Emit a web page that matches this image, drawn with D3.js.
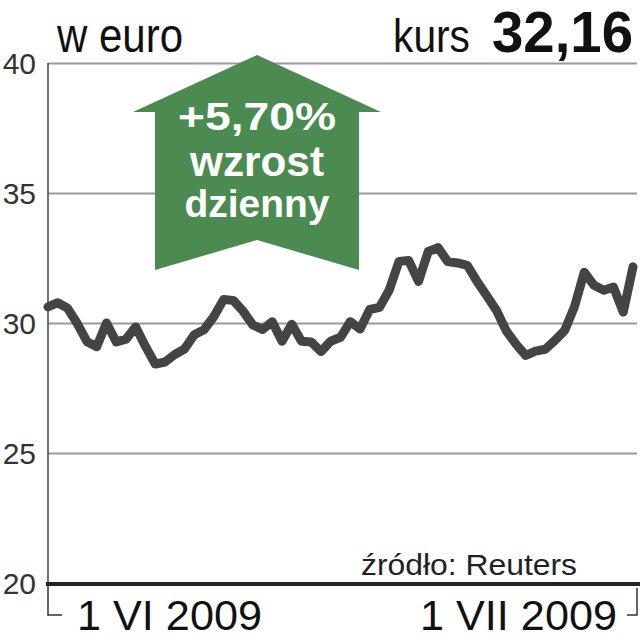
<!DOCTYPE html>
<html>
<head>
<meta charset="utf-8">
<script src="https://cdn.jsdelivr.net/npm/d3@7"></script>
<style>
  html, body { margin: 0; padding: 0; background: #fff; }
  svg { display: block; }
  text { font-family: "Liberation Sans", Arial, sans-serif; }
</style>
</head>
<body>
<svg id="chart" width="640" height="640"></svg>
<script>
// ---- data ----
const prices = [30.62, 30.78, 30.57, 29.98, 29.28, 29.09, 30.0, 29.27, 29.38, 29.85,
  29.1, 28.42, 28.5, 28.79, 29.0, 29.55, 29.74, 30.24, 30.9, 30.87,
  30.46, 29.93, 29.75, 30.05, 29.3, 29.95, 29.3, 29.27, 28.9, 29.3,
  29.45, 30.05, 29.77, 30.52, 30.6, 31.27, 32.37, 32.4, 31.6, 32.75,
  32.9, 32.36, 32.31, 32.22, 31.6, 31.05, 30.48, 29.7, 29.19, 28.75,
  28.92, 28.99, 29.33, 29.72, 30.63, 31.95, 31.45, 31.26, 31.38, 30.42, 32.16];
const yTicks = [20, 25, 30, 35, 40];
const xLabels = ["1 VI 2009", "1 VII 2009"];
const unitLabel = "w euro";
const lastLabel = "kurs";
const lastValue = "32,16";
const changeLines = ["+5,70%", "wzrost", "dzienny"];
const sourceLabel = "źródło: Reuters";

// ---- layout ----
const svg = d3.select("#chart");
const padL = 48, padR = 633, gridRight = 637, padT = 63, padB = 583;

const x = d3.scaleLinear().domain([0, prices.length - 1]).range([padL, padR]);
const y = d3.scaleLinear().domain([20, 40]).range([padB, padT]);

// grid + y labels
const yAxis = d3.axisLeft(y).tickValues(yTicks).tickSize(-(gridRight - padL)).tickPadding(12);
const gy = svg.append("g").attr("transform", `translate(${padL},0)`).call(yAxis);
gy.select(".domain").remove();
gy.selectAll(".tick line").attr("stroke", "#9a9a9a").attr("stroke-width", 2);
gy.selectAll(".tick text")
  .attr("font-size", 30).attr("fill", "#333")
  .attr("font-family", "Roboto, 'Liberation Sans', sans-serif").attr("font-weight", 300)
  .attr("dy", "0.36em");

// left axis line
svg.append("line").attr("x1", padL).attr("x2", padL).attr("y1", padT).attr("y2", padB)
  .attr("stroke", "#444").attr("stroke-width", 1.5);

// arrow annotation
const cx = 257;
const arrowPts = [[cx, 55], [cx + 124, 112], [cx + 102, 112], [cx + 102, 270], [cx, 240],
  [cx - 102, 270], [cx - 102, 112], [cx - 124, 112]];
svg.append("polygon").attr("points", arrowPts.map(p => p.join(",")).join(" "))
  .attr("fill", "#4b8a50");

const arrowText = [
  {t: changeLines[0], y: 130, size: 39, len: 158},
  {t: changeLines[1], y: 176, size: 43, len: 134},
  {t: changeLines[2], y: 217, size: 38, len: 145}
];
svg.selectAll("text.arrow").data(arrowText).enter().append("text")
  .attr("class", "arrow")
  .attr("x", cx).attr("y", d => d.y)
  .attr("text-anchor", "middle")
  .attr("font-size", d => d.size).attr("font-weight", "bold").attr("fill", "#fff")
  .attr("textLength", d => d.len).attr("lengthAdjust", "spacingAndGlyphs")
  .text(d => d.t);

// price line
const line = d3.line().x((d, i) => x(i)).y(d => y(d));
svg.append("path").datum(prices).attr("d", line)
  .attr("fill", "none").attr("stroke", "#444").attr("stroke-width", 9)
  .attr("stroke-linejoin", "round").attr("stroke-linecap", "round");

// bottom axis line
svg.append("line").attr("x1", padL - 2).attr("x2", 640).attr("y1", padB + 1).attr("y2", padB + 1)
  .attr("stroke", "#222").attr("stroke-width", 4);

// date brackets
svg.append("path").attr("d", `M${padL},${padB + 2}V615H62`)
  .attr("fill", "none").attr("stroke", "#333").attr("stroke-width", 1.5);
svg.append("path").attr("d", `M637,588V615H627`)
  .attr("fill", "none").attr("stroke", "#333").attr("stroke-width", 1.5);

// date labels
svg.append("text").attr("x", 77).attr("y", 630).attr("font-size", 42).attr("fill", "#111")
  .attr("textLength", 185).attr("lengthAdjust", "spacingAndGlyphs").text(xLabels[0]);
svg.append("text").attr("x", 420).attr("y", 630).attr("font-size", 42).attr("fill", "#111")
  .attr("textLength", 197).attr("lengthAdjust", "spacingAndGlyphs").text(xLabels[1]);

// source
svg.append("text").attr("x", 361).attr("y", 575).attr("font-size", 29).attr("fill", "#222")
  .attr("font-family", "Roboto, 'Liberation Sans', sans-serif").attr("font-weight", 300)
  .attr("textLength", 216).attr("lengthAdjust", "spacingAndGlyphs").text(sourceLabel);

// header
svg.append("text").attr("x", 57).attr("y", 52).attr("font-size", 48).attr("fill", "#111")
  .attr("textLength", 126).attr("lengthAdjust", "spacingAndGlyphs").text(unitLabel);
svg.append("text").attr("x", 393).attr("y", 52).attr("font-size", 46).attr("fill", "#111")
  .attr("textLength", 77).attr("lengthAdjust", "spacingAndGlyphs").text(lastLabel);
svg.append("text").attr("x", 492).attr("y", 52).attr("font-size", 58).attr("font-weight", "bold")
  .attr("fill", "#111").attr("textLength", 141).attr("lengthAdjust", "spacingAndGlyphs").text(lastValue);
</script>
</body>
</html>
